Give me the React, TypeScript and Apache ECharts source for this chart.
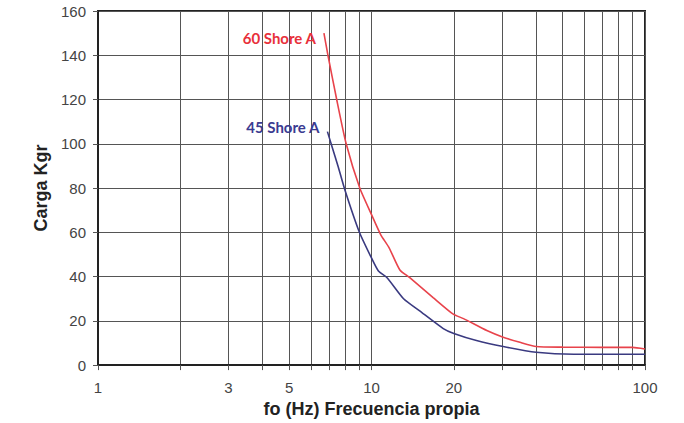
import React, { useEffect, useRef } from "react";
import * as echarts from "echarts";

const xTickValues = [1, 2, 3, 4, 5, 6, 7, 8, 9, 10, 20, 30, 40, 50, 60, 70, 80, 90, 100];
const xLabelValues = [1, 3, 5, 10, 20, 100];

const shore60Name = "60 Shore A";
const shore60: [number, number][] = [
  [6.7, 150], [6.93, 140], [7.46, 120], [8.08, 100], [9.06, 80],
  [10.0, 68], [10.8, 59], [11.6, 53], [12.7, 43], [13.8, 39.5], [16.8, 30.5],
  [19.9, 23], [21.7, 21], [26.4, 15.6], [30.3, 12.6], [34.9, 10.3], [40, 8.4],
  [50, 8.1], [70, 8.0], [90, 8.0], [100, 7.3],
];

const shore45Name = "45 Shore A";
const shore45: [number, number][] = [
  [6.9, 105.5], [7.16, 99], [7.56, 89.5], [8.0, 79], [9.0, 60.5],
  [9.9, 49.5], [10.6, 42.5], [11.4, 39.5], [13.1, 30], [15.0, 24.5], [18.3, 16.5],
  [20, 14.3], [24.2, 11.1], [30.3, 8.4], [40, 5.8], [55, 4.9], [100, 4.9],
];

export default function App() {
  const ref = useRef<HTMLDivElement>(null);
  useEffect(() => {
    if (!ref.current) return;
    const chart = echarts.init(ref.current, null, { renderer: "svg" });
    const font = "'Liberation Sans', Arial, sans-serif";
    const labelFont = "Lato, 'Open Sans', sans-serif";
    const mkData = (arr: [number, number][], name: string, color: string, offY: number) =>
      arr.map((p, i) =>
        i === 0
          ? {
              value: p,
              label: {
                show: true,
                position: "left",
                distance: 8,
                offset: [0, offY],
                formatter: name,
                color,
                fontFamily: labelFont,
                fontWeight: "bold",
                fontSize: 15,
              },
            }
          : { value: p }
      );
    chart.setOption({
      animation: false,
      backgroundColor: "#ffffff",
      grid: {
        left: 98,
        right: 39,
        top: 11,
        bottom: 55,
        show: true,
        borderColor: "#222",
        borderWidth: 2,
        backgroundColor: "transparent",
      },
      xAxis: {
        type: "log",
        logBase: 10,
        min: 1,
        max: 100,
        name: "fo (Hz) Frecuencia propia",
        nameLocation: "middle",
        nameGap: 31,
        nameTextStyle: { fontFamily: font, fontWeight: "bold", fontSize: 18, color: "#222" },
        axisLine: { show: true, lineStyle: { color: "#222", width: 2 } },
        axisTick: { show: true, length: 5, customValues: xTickValues, lineStyle: { color: "#555" } },
        axisLabel: {
          customValues: xLabelValues,
          margin: 15,
          fontFamily: font,
          fontSize: 15,
          color: "#444",
        },
        splitLine: { show: true, lineStyle: { color: "#555", width: 1 } },
      },
      yAxis: {
        type: "value",
        min: 0,
        max: 160,
        interval: 20,
        name: "Carga Kgr",
        nameLocation: "middle",
        nameGap: 47,
        nameRotate: 90,
        nameTextStyle: { fontFamily: font, fontWeight: "bold", fontSize: 18, color: "#222" },
        axisLine: { show: true, lineStyle: { color: "#222", width: 2 } },
        axisTick: { show: true, length: 5, lineStyle: { color: "#555" } },
        axisLabel: { margin: 12, fontFamily: font, fontSize: 15, color: "#444" },
        splitLine: { show: true, lineStyle: { color: "#555", width: 1 } },
      },
      series: [
        {
          name: shore60Name,
          type: "line",
          data: mkData(shore60, shore60Name, "#e8303a", 5),
          showSymbol: true,
          symbol: "circle",
          symbolSize: 0,
          smooth: 0.2,
          lineStyle: { color: "#e8434b", width: 1.6 },
          itemStyle: { color: "#e8434b" },
        },
        {
          name: shore45Name,
          type: "line",
          data: mkData(shore45, shore45Name, "#3b3b91", -5),
          showSymbol: true,
          symbol: "circle",
          symbolSize: 0,
          smooth: 0.2,
          lineStyle: { color: "#3a3a80", width: 1.6 },
          itemStyle: { color: "#3a3a80" },
        },
      ],
    });
    return () => chart.dispose();
  }, []);
  return (
    <div
      ref={ref}
      style={{ position: "absolute", left: 0, top: 0, width: 684, height: 423 }}
    />
  );
}
